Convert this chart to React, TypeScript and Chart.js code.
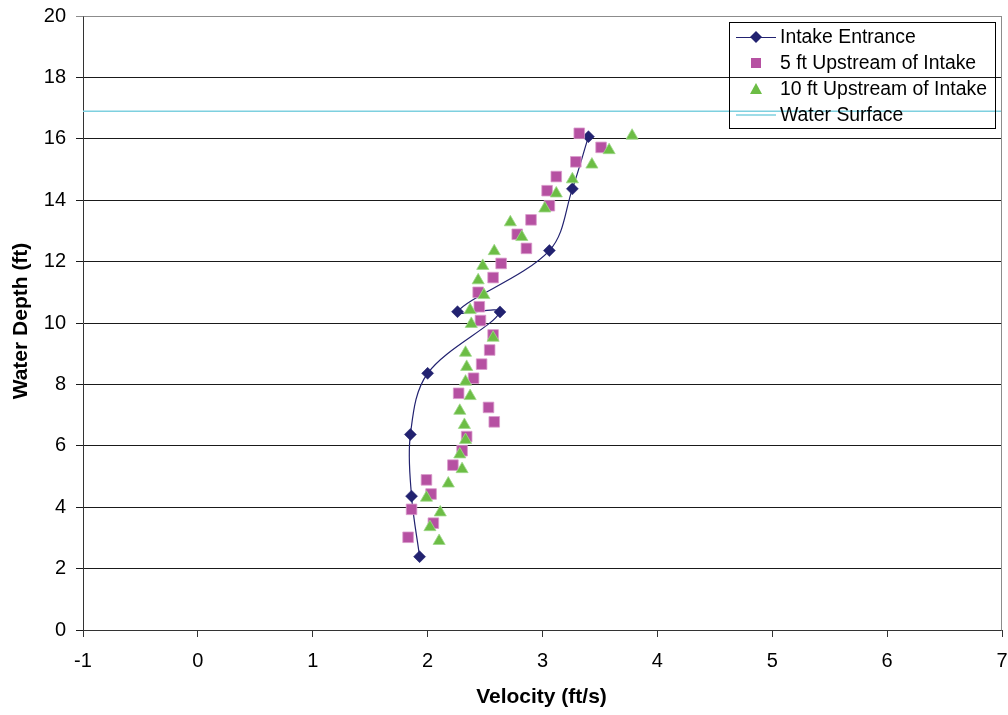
import { useEffect, useRef } from 'react';
import { Chart, registerables } from 'chart.js';

Chart.register(...registerables);

// ---- Data ----
const intakeVelocity = [3.40, 3.26, 3.06, 2.26, 2.63, 2.00, 1.85, 1.86, 1.93];
const intakeDepth = [16.07, 14.37, 12.36, 10.37, 10.36, 8.36, 6.37, 4.36, 2.39];

const up5Velocity = [3.32, 3.51, 3.29, 3.12, 3.04, 3.06, 2.90, 2.78, 2.86, 2.64, 2.57, 2.44, 2.45, 2.46, 2.57, 2.54, 2.47, 2.40, 2.27, 2.53, 2.58, 2.34, 2.30, 2.22, 1.99, 2.03, 1.86, 2.05, 1.83];
const up5Depth = [16.18, 15.72, 15.25, 14.77, 14.31, 13.82, 13.36, 12.89, 12.43, 11.94, 11.48, 11.00, 10.53, 10.08, 9.61, 9.12, 8.66, 8.20, 7.71, 7.25, 6.78, 6.30, 5.84, 5.37, 4.89, 4.43, 3.93, 3.48, 3.02];

const up10Velocity = [3.78, 3.58, 3.43, 3.26, 3.12, 3.02, 2.72, 2.82, 2.58, 2.48, 2.44, 2.49, 2.37, 2.38, 2.57, 2.33, 2.34, 2.33, 2.37, 2.28, 2.32, 2.33, 2.28, 2.30, 2.18, 1.99, 2.11, 2.02, 2.10];
const up10Depth = [16.10, 15.63, 15.16, 14.68, 14.22, 13.73, 13.28, 12.80, 12.34, 11.86, 11.39, 10.91, 10.42, 9.97, 9.52, 9.03, 8.57, 8.09, 7.62, 7.14, 6.68, 6.19, 5.72, 5.24, 4.77, 4.31, 3.83, 3.35, 2.90];

const waterSurfaceVelocity = [-1, 7];
const waterSurfaceDepth = [16.9, 16.9];

const seriesNames = ['Intake Entrance', '5 ft Upstream of Intake', '10 ft Upstream of Intake', 'Water Surface'];
const xAxisTitle = 'Velocity (ft/s)';
const yAxisTitle = 'Water Depth (ft)';
const xMin = -1, xMax = 7, xStep = 1;
const yMin = 0, yMax = 20, yStep = 2;

const NAVY = '#222270';
const MAGENTA = '#B651A2';
const GREEN = '#6CBD45';
const CYAN = '#7ED0DF';
const FONT = '"Liberation Sans", Arial, sans-serif';

const toPoints = (xs: number[], ys: number[]) => xs.map((x, i) => ({ x, y: ys[i] }));

const decorPlugin = {
  id: 'decor',
  afterDraw(chart: any) {
    const ctx = chart.ctx as CanvasRenderingContext2D;
    const a = chart.chartArea;
    ctx.save();
    // plot border (top & right)
    ctx.strokeStyle = '#8c8c8c';
    ctx.lineWidth = 1;
    ctx.beginPath();
    ctx.moveTo(Math.round(a.left) + 0.5, Math.round(a.top) + 0.5);
    ctx.lineTo(Math.round(a.right) - 0.5, Math.round(a.top) + 0.5);
    ctx.lineTo(Math.round(a.right) - 0.5, Math.round(a.bottom) + 0.5);
    ctx.stroke();

    // axis titles
    ctx.fillStyle = '#000';
    ctx.font = `bold 21px ${FONT}`;
    ctx.textAlign = 'center';
    ctx.textBaseline = 'middle';
    ctx.fillText(xAxisTitle, 541.5, 697);
    ctx.save();
    ctx.translate(21.5, 321);
    ctx.rotate(-Math.PI / 2);
    ctx.fillText(yAxisTitle, 0, 0);
    ctx.restore();

    // legend
    const lx = 729, ly = 22, lw = 266, lh = 106;
    ctx.strokeStyle = '#000';
    ctx.lineWidth = 1;
    ctx.strokeRect(lx + 0.5, ly + 0.5, lw, lh);
    const rows = [37, 63, 89, 115];
    const sx0 = 736, sx1 = 776, sc = 756;
    ctx.font = `19.4px ${FONT}`;
    ctx.textAlign = 'left';
    ctx.textBaseline = 'middle';
    rows.forEach((ry, i) => {
      if (i === 0) {
        ctx.strokeStyle = NAVY;
        ctx.lineWidth = 1;
        ctx.beginPath();
        ctx.moveTo(sx0, ry + 0.5);
        ctx.lineTo(sx1, ry + 0.5);
        ctx.stroke();
        ctx.fillStyle = NAVY;
        ctx.beginPath();
        ctx.moveTo(sc - 6, ry);
        ctx.lineTo(sc, ry - 6);
        ctx.lineTo(sc + 6, ry);
        ctx.lineTo(sc, ry + 6);
        ctx.closePath();
        ctx.fill();
      } else if (i === 1) {
        ctx.fillStyle = MAGENTA;
        ctx.fillRect(sc - 5, ry - 5, 10, 10);
      } else if (i === 2) {
        ctx.fillStyle = GREEN;
        ctx.beginPath();
        ctx.moveTo(sc, ry - 6);
        ctx.lineTo(sc + 6, ry + 5);
        ctx.lineTo(sc - 6, ry + 5);
        ctx.closePath();
        ctx.fill();
      } else {
        ctx.strokeStyle = CYAN;
        ctx.lineWidth = 1.5;
        ctx.beginPath();
        ctx.moveTo(sx0, ry);
        ctx.lineTo(sx1, ry);
        ctx.stroke();
      }
      ctx.fillStyle = '#000';
      ctx.fillText(seriesNames[i], 780, ry + 1);
    });
    ctx.restore();
  },
};

export default function App() {
  const canvasRef = useRef<HTMLCanvasElement | null>(null);

  useEffect(() => {
    document.body.style.margin = '0';
    const canvas = canvasRef.current;
    if (!canvas) return;
    Chart.defaults.font.family = FONT;
    Chart.defaults.font.size = 20;
    Chart.defaults.color = '#000';

    const chart = new Chart(canvas, {
      type: 'scatter',
      data: {
        datasets: [
          {
            label: seriesNames[3],
            data: toPoints(waterSurfaceVelocity, waterSurfaceDepth),
            showLine: true,
            borderColor: CYAN,
            borderWidth: 1.5,
            pointRadius: 0,
            order: 0,
          },
          {
            label: seriesNames[2],
            data: toPoints(up10Velocity, up10Depth),
            pointStyle: 'triangle',
            pointRadius: 7,
            backgroundColor: GREEN,
            borderColor: '#9ED889',
            borderWidth: 0.8,
            order: 1,
          },
          {
            label: seriesNames[1],
            data: toPoints(up5Velocity, up5Depth),
            pointStyle: 'rect',
            pointRadius: 7.5,
            backgroundColor: MAGENTA,
            borderColor: '#D99BCB',
            borderWidth: 0.8,
            order: 2,
          },
          {
            label: seriesNames[0],
            data: toPoints(intakeVelocity, intakeDepth),
            showLine: true,
            tension: 0.35,
            borderColor: NAVY,
            borderWidth: 1.2,
            pointStyle: 'rectRot',
            pointRadius: 6,
            backgroundColor: NAVY,
            pointBorderColor: NAVY,
            pointBorderWidth: 0.5,
            order: 3,
          },
        ],
      },
      options: {
        responsive: false,
        animation: false,
        events: [],
        layout: { autoPadding: false, padding: { left: 0, top: 16, right: 6, bottom: 0 } },
        plugins: {
          legend: { display: false },
          tooltip: { enabled: false },
          title: { display: false },
        },
        scales: {
          x: {
            type: 'linear',
            min: xMin,
            max: xMax,
            ticks: { stepSize: xStep, padding: 12, color: '#000', font: { size: 20 } },
            grid: { drawOnChartArea: false, drawTicks: true, tickLength: 7, color: '#333' },
            border: { display: true, color: '#333', width: 1 },
            afterFit: (scale: any) => {
              scale.height = 85;
              scale.paddingLeft = 0;
              scale.paddingRight = 0;
            },
          },
          y: {
            type: 'linear',
            min: yMin,
            max: yMax,
            ticks: { stepSize: yStep, padding: 10, color: '#000', font: { size: 20 } },
            grid: {
              drawTicks: true,
              tickLength: 7,
              color: (c: any) => (c.tick && c.tick.value === yMax ? '#8c8c8c' : '#1a1a1a'),
              lineWidth: 1,
            },
            border: { display: true, color: '#333', width: 1 },
            afterFit: (scale: any) => {
              scale.width = 83;
              scale.paddingTop = 0;
              scale.paddingBottom = 0;
            },
          },
        },
      },
      plugins: [decorPlugin],
    } as any);

    return () => chart.destroy();
  }, []);

  return (
    <div style={{ width: 1008, height: 715 }}>
      <canvas ref={canvasRef} width={1008} height={715} />
    </div>
  );
}
